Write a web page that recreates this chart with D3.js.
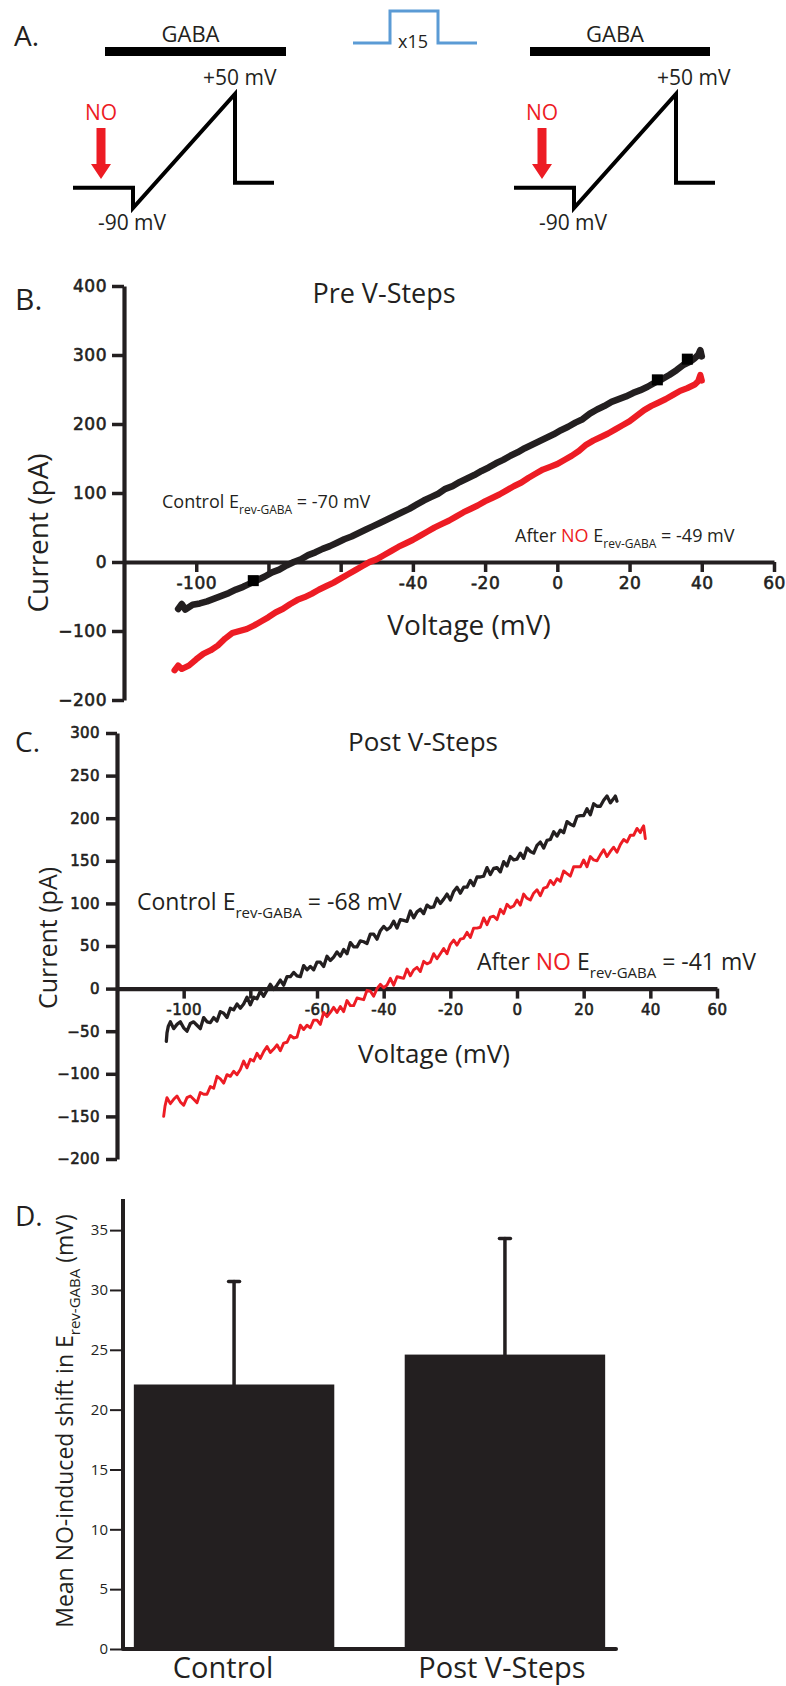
<!DOCTYPE html>
<html><head><meta charset="utf-8">
<script src="https://cdn.jsdelivr.net/npm/d3@7"></script>
<style>
html,body{margin:0;padding:0;background:#fff;}
svg{display:block;}
text{white-space:pre;}
</style></head><body>
<svg id="fig" width="786" height="1686"></svg>
<script>
// ===================== DATA =====================
// Panel A – stimulation protocol schematic (time: arbitrary units, voltage: mV)
const rampT = [0, 60, 60, 162, 162, 201];
const rampV = [-65, -65, -90, 50, -59, -59];
const gabaStart = [32, 16];          // GABA application window per protocol
const gabaEnd = [213, 196];
const noTime = 28;                   // NO application marker
const pulseT = [0, 37, 37, 85, 85, 124];
const pulseLevel = [0, 0, 1, 1, 0, 0];
const pulseRepeat = "x15";

// Panels B & C axes
const voltTicks = [-100, -80, -60, -40, -20, 0, 20, 40, 60];
const voltLabelsB = [-100, -40, -20, 0, 20, 40, 60];
const voltLabelsC = [-100, -60, -40, -20, 0, 20, 40, 60];
const currTicksB = [-200, -100, 0, 100, 200, 300, 400];
const currTicksC = [-200, -150, -100, -50, 0, 50, 100, 150, 200, 250, 300];
const erevControl = [-70, -68];
const erevNO = [-49, -41];

// Panel B – Pre V-Steps I–V traces [mV, pA]
const preControl = [[-105,-68],[-104,-61],[-103,-69],[-101,-62],[-99,-60],[-97,-57],[-95,-53],[-93,-49],[-91,-45],[-89,-40],[-87,-36],[-85,-31],[-83,-26],[-81,-21],[-79,-15],[-77,-11],[-75,-5],[-73,0],[-71,4],[-69,10],[-67,14],[-65,19],[-63,23],[-61,28],[-59,33],[-57,37],[-55,42],[-53,47],[-51,52],[-49,57],[-47,62],[-45,67],[-43,72],[-41,77],[-39,83],[-37,89],[-35,94],[-33,99],[-31,106],[-29,110],[-27,116],[-25,121],[-23,126],[-21,132],[-19,137],[-17,143],[-15,148],[-13,154],[-11,159],[-9,165],[-7,170],[-5,175],[-3,180],[-1,185],[1,191],[3,196],[5,202],[7,207],[9,215],[11,221],[13,226],[15,232],[17,236],[19,240],[21,245],[23,249],[25,254],[27,260],[29,265],[31,271],[33,278],[35,286],[37,291],[38,295],[39,300],[39.6,307],[40,298]];
const preNO = [[-106,-157],[-105,-150],[-104,-155],[-102,-150],[-100,-141],[-98,-133],[-96,-128],[-94,-121],[-92,-111],[-90,-103],[-88,-100],[-86,-97],[-84,-92],[-82,-86],[-80,-80],[-78,-73],[-76,-68],[-74,-61],[-72,-55],[-70,-51],[-68,-46],[-66,-40],[-64,-35],[-62,-30],[-60,-24],[-58,-18],[-56,-12],[-54,-6],[-52,0],[-50,4],[-48,10],[-46,16],[-44,22],[-42,27],[-40,32],[-38,38],[-36,44],[-34,50],[-32,55],[-30,60],[-28,66],[-26,72],[-24,77],[-22,82],[-20,88],[-18,93],[-16,98],[-14,104],[-12,110],[-10,115],[-8,122],[-6,128],[-4,134],[-2,138],[0,142],[2,148],[4,154],[6,161],[8,170],[10,176],[12,181],[14,186],[16,192],[18,198],[20,204],[22,212],[24,220],[26,226],[28,231],[30,236],[32,242],[34,248],[36,252],[38,257],[39,262],[39.6,271],[40,263]];
const preMarkers = [[-84.2,-27],[27.7,264],[36,294]];

// Panel C – Post V-Steps I–V traces [mV, pA]
const postControl = [[-105.2,-62],[-105,-52],[-104.6,-44],[-104,-39],[-103,-47],[-102,-42],[-101,-39],[-100,-46],[-99,-50],[-98,-41],[-97,-39],[-96,-43],[-95,-47],[-94,-34],[-93,-39],[-92,-40],[-91,-34],[-90,-38],[-89,-27],[-88,-29],[-87,-34],[-86,-23],[-85,-25],[-84,-18],[-83,-23],[-82,-18],[-81,-10],[-80,-19],[-79,-10],[-78,-12],[-77,-3],[-76,-9],[-75,-2],[-74,5],[-73,-1],[-72,4],[-71,10],[-70,4],[-69,14],[-68,14],[-67,19],[-66,15],[-65,14],[-64,27],[-63,22],[-62,26],[-61,22],[-60,31],[-59,31],[-58,26],[-57,38],[-56,33],[-55,37],[-54,43],[-53,38],[-52,46],[-51,41],[-50,54],[-49,49],[-48,49],[-47,56],[-46,55],[-45,53],[-44,64],[-43,64],[-42,58],[-41,68],[-40,73],[-39,69],[-38,72],[-37,79],[-36,71],[-35,81],[-34,80],[-33,79],[-32,91],[-31,83],[-30,90],[-29,93],[-28,88],[-27,98],[-26,95],[-25,96],[-24,106],[-23,100],[-22,105],[-21,111],[-20,104],[-19,114],[-18,119],[-17,112],[-16,119],[-15,119],[-14,127],[-13,121],[-12,131],[-11,131],[-10,132],[-9,142],[-8,134],[-7,141],[-6,142],[-5,137],[-4,149],[-3,144],[-2,155],[-1,151],[0,152],[1,159],[2,153],[3,165],[4,161],[5,159],[6,168],[7,172],[8,165],[9,174],[10,175],[11,184],[12,179],[13,186],[14,183],[15,196],[16,193],[17,191],[18,202],[19,203],[20,203],[21,211],[22,204],[23,217],[24,214],[25,214],[26,221],[27,226],[28,218],[29,223],[29.5,226],[30,220]];
const postNO = [[-106,-150],[-105.6,-138],[-105,-128],[-104,-135],[-103,-130],[-102,-126],[-101,-133],[-100,-137],[-99,-128],[-98,-126],[-97,-130],[-96,-134],[-95,-122],[-94,-124],[-93,-124],[-92,-115],[-91,-117],[-90,-103],[-89,-106],[-88,-111],[-87,-101],[-86,-103],[-85,-97],[-84,-101],[-83,-95],[-82,-85],[-81,-93],[-80,-83],[-79,-85],[-78,-76],[-77,-82],[-76,-74],[-75,-68],[-74,-75],[-73,-71],[-72,-66],[-71,-73],[-70,-64],[-69,-63],[-68,-55],[-67,-58],[-66,-57],[-65,-43],[-64,-48],[-63,-43],[-62,-46],[-61,-37],[-60,-37],[-59,-42],[-58,-28],[-57,-33],[-56,-28],[-55,-22],[-54,-28],[-53,-21],[-52,-27],[-51,-14],[-50,-20],[-49,-20],[-48,-11],[-47,-12],[-46,-13],[-45,-2],[-44,-3],[-43,-9],[-42,0],[-41,5],[-40,1],[-39,4],[-38,12],[-37,4],[-36,14],[-35,13],[-34,12],[-33,23],[-32,15],[-31,22],[-30,25],[-29,20],[-28,32],[-27,29],[-26,31],[-25,41],[-24,35],[-23,41],[-22,47],[-21,41],[-20,52],[-19,57],[-18,51],[-17,58],[-16,59],[-15,66],[-14,60],[-13,71],[-12,71],[-11,72],[-10,83],[-9,75],[-8,84],[-7,85],[-6,81],[-5,93],[-4,88],[-3,99],[-2,95],[-1,97],[0,104],[1,98],[2,111],[3,106],[4,104],[5,112],[6,116],[7,109],[8,118],[9,119],[10,127],[11,122],[12,129],[13,126],[14,138],[15,135],[16,132],[17,143],[18,143],[19,143],[20,151],[21,143],[22,155],[23,151],[24,150],[25,157],[26,163],[27,155],[28,161],[29,166],[30,160],[31,169],[32,175],[33,172],[34,180],[35,180],[36,188],[37,183],[37.5,188],[38,191],[38.5,176]];

// Panel D – mean NO-induced shift in E_rev-GABA
const shiftCategories = ["Control", "Post V-Steps"];
const shiftMean = [22.1, 24.6];
const shiftSEM = [8.6, 9.7];
const shiftTicks = [0, 5, 10, 15, 20, 25, 30, 35];

// ===================== DRAWING =====================
const svg = d3.select("#fig");
const INK = "#231f20", RED = "#ed1c24", BLUE = "#5b9bd5";
const SANS = "'Open Sans','Noto Sans',sans-serif";
const TICKF = "'DejaVu Sans',sans-serif";

function label(x, y, s, size, opt = {}) {
  return svg.append("text").attr("x", x).attr("y", y)
    .attr("font-family", opt.family || SANS).attr("font-size", size)
    .attr("fill", opt.fill || INK).attr("text-anchor", opt.anchor || "start")
    .text(s);
}

// ---------- Panel A ----------
label(14, 46, "A.", 28);
const vA = d3.scaleLinear().domain([-90, 50]).range([208, 94]);
const protoX = [[73, 274], [514, 715]];
const plusDx = [-32, -19];
protoX.forEach((rng, k) => {
  const tx = d3.scaleLinear().domain([0, 201]).range(rng);
  const line = d3.line().x((d, i) => tx(rampT[i])).y((d, i) => vA(rampV[i]));
  svg.append("path").attr("d", line(rampT)).attr("fill", "none")
    .attr("stroke", "#000").attr("stroke-width", 4).attr("stroke-linejoin", "miter");
  const g0 = tx(gabaStart[k]), g1 = tx(gabaEnd[k]);
  svg.append("rect").attr("x", g0).attr("y", 47).attr("width", g1 - g0).attr("height", 9).attr("fill", "#000");
  label((g0 + g1) / 2 - 5, 42, "GABA", 22, { anchor: "middle" });
  const ax = tx(noTime);
  label(ax, 120, "NO", 21, { anchor: "middle", fill: RED });
  svg.append("path").attr("fill", RED)
    .attr("d", `M${ax - 4.5},128H${ax + 4.5}V164H${ax + 10}L${ax},179L${ax - 10},164H${ax - 4.5}Z`);
  const peakIdx = rampV.indexOf(d3.max(rampV));
  label(tx(rampT[peakIdx]) + plusDx[k], 85, "+50 mV", 21);
  const troughIdx = rampV.indexOf(d3.min(rampV));
  label(tx(rampT[troughIdx]) - 1, 230, "-90 mV", 21, { anchor: "middle" });
});
const px = d3.scaleLinear().domain([0, 124]).range([353, 477]);
const py = d3.scaleLinear().domain([0, 1]).range([43, 11]);
svg.append("path").attr("fill", "none").attr("stroke", BLUE).attr("stroke-width", 3)
  .attr("d", d3.line().x((d, i) => px(pulseT[i])).y((d, i) => py(pulseLevel[i]))(pulseT));
label(413, 48, pulseRepeat, 18, { anchor: "middle" });

// ---------- helpers for I-V panels ----------
function erevText(x, y, size, subSize, lead, isNO, value) {
  const t = svg.append("text").attr("x", x).attr("y", y).attr("font-family", SANS)
    .attr("font-size", size).attr("fill", INK);
  const sh = size * 0.33;
  if (isNO) {
    t.append("tspan").text("After ");
    t.append("tspan").attr("fill", RED).text("NO");
    t.append("tspan").text(" E");
  } else {
    t.append("tspan").text(lead + " E");
  }
  t.append("tspan").attr("font-size", subSize).attr("dy", sh).text("rev-GABA");
  t.append("tspan").attr("dy", -sh).text(" = " + value + " mV");
}
function rotLabel(x, y, s, size) {
  svg.append("text").attr("transform", `translate(${x},${y}) rotate(-90)`)
    .attr("text-anchor", "middle").attr("font-family", SANS).attr("font-size", size)
    .attr("fill", INK).text(s);
}
function styleAxis(g, dom, tick, fs, fam) {
  g.select(".domain").attr("stroke", INK).attr("stroke-width", dom);
  g.selectAll(".tick line").attr("stroke", INK).attr("stroke-width", tick);
  g.selectAll(".tick text").attr("fill", INK).attr("font-size", fs).attr("font-family", fam)
    .attr("stroke", INK).attr("stroke-width", fam === TICKF ? 0.6 : 0);
}

function ivPanel(cfg) {
  const x = d3.scaleLinear().domain([-120, 60]).range(cfg.xr);
  const y = d3.scaleLinear().domain([d3.min(cfg.yTicks), d3.max(cfg.yTicks)]).range(cfg.yr);
  const gy = svg.append("g").attr("transform", `translate(${x(-120)},0)`)
    .call(d3.axisLeft(y).tickValues(cfg.yTicks).tickSize(cfg.ytick).tickSizeOuter(0).tickPadding(cfg.ypad));
  styleAxis(gy, 4.2, 3.5, cfg.fs, TICKF);
  const gx = svg.append("g").attr("transform", `translate(0,${y(0)})`)
    .call(d3.axisBottom(x).tickValues(voltTicks).tickSize(10).tickSizeOuter(0).tickPadding(cfg.xpad)
      .tickFormat(d => cfg.xLabels.includes(d) ? d : ""));
  styleAxis(gx, 4.2, 3.5, cfg.fs, TICKF);
  gx.selectAll(".tick text").attr("letter-spacing", cfg.ls);
  gy.selectAll(".tick text").attr("letter-spacing", cfg.ls);
  const ln = d3.line().x(d => x(d[0])).y(d => y(d[1]));
  svg.append("path").attr("d", ln(cfg.noData)).attr("fill", "none").attr("stroke", RED)
    .attr("stroke-width", cfg.sw).attr("stroke-linejoin", "round").attr("stroke-linecap", "round");
  svg.append("path").attr("d", ln(cfg.ctrlData)).attr("fill", "none").attr("stroke", INK)
    .attr("stroke-width", cfg.sw + 0.4).attr("stroke-linejoin", "round").attr("stroke-linecap", "round");
  if (cfg.markers) {
    svg.selectAll(null).data(cfg.markers).enter().append("rect")
      .attr("x", d => x(d[0]) - 5.5).attr("y", d => y(d[1]) - 5.5)
      .attr("width", 11).attr("height", 11).attr("fill", "#000");
  }
}

// ---------- Panel B ----------
label(15, 310, "B.", 30);
ivPanel({ xr: [124, 774], yr: [700, 286], yTicks: currTicksB, ytick: 12, ypad: 5, xpad: 5, fs: 17, ls: 0.5,
  xLabels: voltLabelsB, ctrlData: preControl, noData: preNO, sw: 6.2, markers: preMarkers });
label(384, 303, "Pre V-Steps", 27, { anchor: "middle" });
rotLabel(48, 533, "Current (pA)", 28);
label(469, 635, "Voltage (mV)", 28, { anchor: "middle" });
erevText(162, 508, 18, 12, "Control", false, erevControl[0]);
erevText(515, 542, 18, 12, "", true, erevNO[0]);

// ---------- Panel C ----------
label(15, 752, "C.", 28);
ivPanel({ xr: [117, 717], yr: [1159, 733], yTicks: currTicksC, ytick: 11, ypad: 6, xpad: 6, fs: 15, ls: 0.4,
  xLabels: voltLabelsC, ctrlData: postControl, noData: postNO, sw: 2.9 });
label(423, 751, "Post V-Steps", 26, { anchor: "middle" });
rotLabel(57, 938, "Current (pA)", 25);
label(434, 1063, "Voltage (mV)", 26, { anchor: "middle" });
erevText(137, 910, 23, 15, "Control", false, erevControl[1]);
erevText(477, 970, 23, 15, "", true, erevNO[1]);

// ---------- Panel D ----------
label(15, 1226, "D.", 28);
const axD = 123, axEnd = 616;
const yD = d3.scaleLinear().domain([0, 37.6]).range([1649, 1199]);
const xD = d3.scaleBand().domain(shiftCategories).range([axD, axEnd]).paddingInner(0.26).paddingOuter(0.04);
const catLabelDx = [-11, -3];
svg.selectAll(null).data(shiftCategories).enter().append("rect")
  .attr("x", d => xD(d)).attr("width", xD.bandwidth())
  .attr("y", (d, i) => yD(shiftMean[i])).attr("height", (d, i) => yD(0) - yD(shiftMean[i]))
  .attr("fill", INK);
const errG = svg.append("g").attr("stroke", INK).attr("stroke-width", 3.5).attr("stroke-linecap", "round");
shiftCategories.forEach((c, i) => {
  const cx = xD(c) + xD.bandwidth() / 2;
  errG.append("line").attr("x1", cx).attr("x2", cx).attr("y1", yD(shiftMean[i])).attr("y2", yD(shiftMean[i] + shiftSEM[i]));
  errG.append("line").attr("x1", cx - 5.5).attr("x2", cx + 5.5).attr("y1", yD(shiftMean[i] + shiftSEM[i])).attr("y2", yD(shiftMean[i] + shiftSEM[i]));
  label(cx + catLabelDx[i], 1678, c, 29, { anchor: "middle" });
});
svg.append("line").attr("x1", axD).attr("x2", axEnd).attr("y1", yD(0)).attr("y2", yD(0))
  .attr("stroke", INK).attr("stroke-width", 4).attr("stroke-linecap", "round");
const gD = svg.append("g").attr("transform", `translate(${axD},0)`)
  .call(d3.axisLeft(yD).tickValues(shiftTicks).tickSize(13).tickSizeOuter(0).tickPadding(2));
gD.select(".domain").attr("d", `M0,${yD(0)}V${yD(37.6)}`);
styleAxis(gD, 4, 2, 15, SANS);
{
  const t = svg.append("text").attr("transform", `translate(73,1421) rotate(-90)`)
    .attr("text-anchor", "middle").attr("font-family", SANS).attr("font-size", 23).attr("fill", INK);
  t.append("tspan").text("Mean NO-induced shift in E");
  t.append("tspan").attr("font-size", 15).attr("dy", 7).text("rev-GABA");
  t.append("tspan").attr("dy", -7).text(" (mV)");
}
</script>
</body></html>
